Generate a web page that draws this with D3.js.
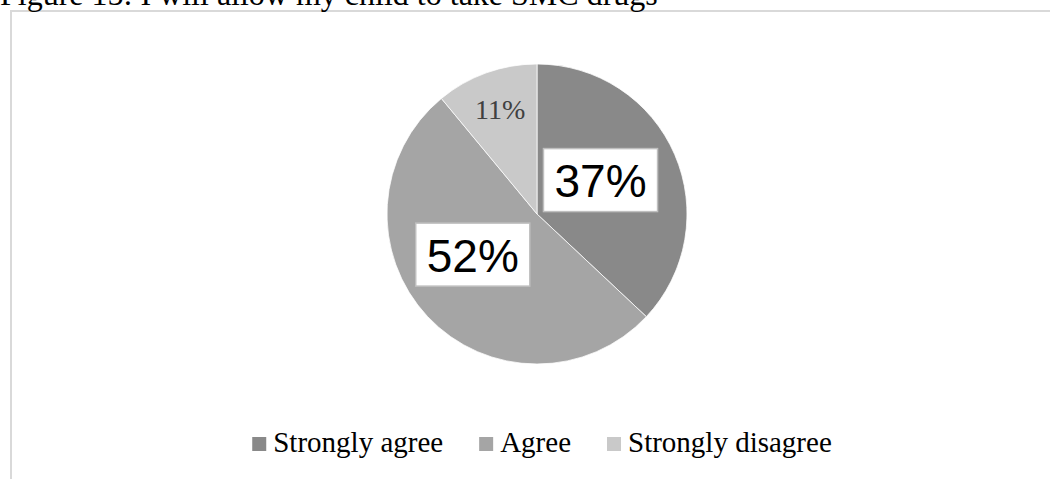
<!DOCTYPE html>
<html>
<head>
<meta charset="utf-8">
<script src="https://cdn.jsdelivr.net/npm/d3@7"></script>
<style>
  html, body { margin: 0; padding: 0; background: #fff; overflow: hidden; }
  svg { display: block; }
</style>
</head>
<body>
<svg id="chart" width="1050" height="479"></svg>
<script>
// Survey responses
const categories = ["Strongly agree", "Agree", "Strongly disagree"];
const values = [37, 52, 11];
const valueLabels = ["37%", "52%", "11%"];
const titleText = "Figure 15: I will allow my child to take SMC drugs";

// Styling / layout
const sliceColors = ["#898989", "#a5a5a5", "#c9c9c9"];
const boxedLabel = [true, true, false];          // big boxed labels vs. plain label
const labelPolar = [                              // label radius and angular nudge (deg)
  { r: 72, shift: -4.7 },
  { r: 76, shift: 10.9 },
  { r: 111, shift: 0.4 }
];
const W = 1050, H = 479;
const cx = 537, cy = 214, radius = 150;

const svg = d3.select("#chart");

// Chart frame
svg.append("rect")
  .attr("x", 11).attr("y", 11)
  .attr("width", W + 20).attr("height", H + 20)
  .attr("fill", "none")
  .attr("stroke", "#d9d9d9")
  .attr("stroke-width", 2);

// Title (sits above the frame)
svg.append("text")
  .attr("x", 0).attr("y", 5)
  .attr("font-family", "'Liberation Serif', 'Times New Roman', serif")
  .attr("font-size", 32)
  .attr("fill", "#000")
  .text(titleText);

const color = d3.scaleOrdinal().domain(categories).range(sliceColors);

const pie = d3.pie().sort(null).value(d => d.value);
const data = categories.map((c, i) => ({ category: c, value: values[i], label: valueLabels[i], i }));
const arcs = pie(data);
const arc = d3.arc().innerRadius(0).outerRadius(radius);

const g = svg.append("g").attr("transform", `translate(${cx},${cy})`);

g.selectAll("path.slice")
  .data(arcs)
  .enter().append("path")
  .attr("class", "slice")
  .attr("d", arc)
  .attr("fill", d => color(d.data.category))
  .attr("stroke", "#ffffff")
  .attr("stroke-width", 0.75);

// Data labels
const labels = g.selectAll("g.lbl")
  .data(arcs)
  .enter().append("g")
  .attr("class", "lbl")
  .attr("transform", d => {
    const p = labelPolar[d.data.i];
    const a = (d.startAngle + d.endAngle) / 2 + p.shift * Math.PI / 180;
    return `translate(${p.r * Math.sin(a)},${-p.r * Math.cos(a)})`;
  });

labels.each(function(d) {
  const sel = d3.select(this);
  if (boxedLabel[d.data.i]) {
    const t = sel.append("text")
      .attr("text-anchor", "middle")
      .attr("y", 17)
      .attr("font-family", "'Liberation Sans', Arial, sans-serif")
      .attr("font-size", 46)
      .attr("fill", "#000")
      .text(d.data.label);
    const w = t.node().getComputedTextLength() + 22;
    const h = 63;
    sel.insert("rect", "text")
      .attr("x", -w / 2).attr("y", -h / 2)
      .attr("width", w).attr("height", h)
      .attr("fill", "#fff")
      .attr("stroke", "#bfbfbf")
      .attr("stroke-width", 1.5);
  } else {
    sel.append("text")
      .attr("text-anchor", "middle")
      .attr("y", 10)
      .attr("font-family", "'Liberation Serif', 'Times New Roman', serif")
      .attr("font-size", 28)
      .attr("fill", "#404040")
      .text(d.data.label);
  }
});

// Legend
const legend = svg.append("g");
const items = legend.selectAll("g.item")
  .data(categories)
  .enter().append("g")
  .attr("class", "item");

items.append("rect")
  .attr("width", 14).attr("height", 14)
  .attr("y", -7)
  .attr("fill", d => color(d));

items.append("text")
  .attr("x", 21)
  .attr("y", 8)
  .attr("font-family", "'Liberation Serif', 'Times New Roman', serif")
  .attr("font-size", 29)
  .attr("fill", "#000")
  .text(d => d);

let xOff = 0;
items.each(function() {
  const node = d3.select(this);
  node.attr("transform", `translate(${xOff},0)`);
  const tw = node.select("text").node().getComputedTextLength();
  xOff += 21 + tw + 36;
});
const legendW = xOff - 36;
legend.attr("transform", `translate(${542 - legendW / 2},444)`);
</script>
</body>
</html>
